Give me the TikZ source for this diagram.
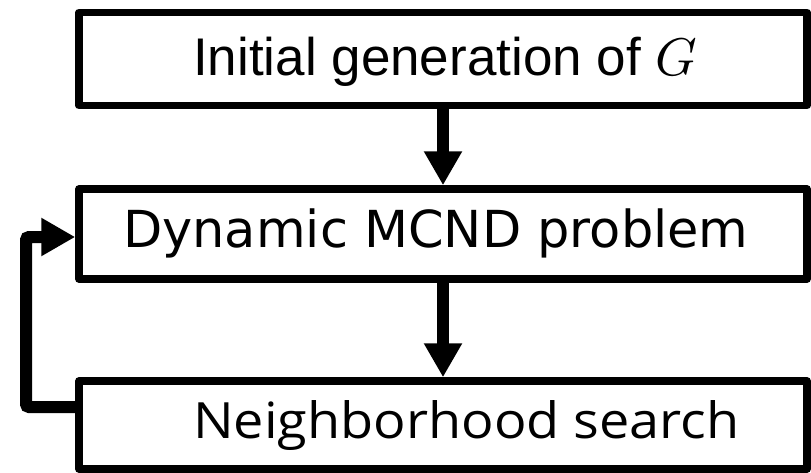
\documentclass[tikz,border=0pt]{standalone}
\usepackage{fontspec}
\usepackage{unicode-math}
\usetikzlibrary{arrows.meta}
\newfontfamily\arialfont{Liberation Sans}
\newfontfamily\verdfont{DejaVu Sans}
\newfontfamily\meifont[FakeStretch=1.08]{Open Sans}

\begin{document}
\begin{tikzpicture}[x=1pt,y=-1pt,
  box/.style={draw=black, line width=7.5pt, line join=round, minimum width=728pt, inner sep=0pt},
  conn/.style={line width=12pt, -{Triangle[length=34pt,width=36pt]}},
  txt/.style={anchor=base west, inner sep=0pt}]
\useasboundingbox (0,0) rectangle (811,472);

% process boxes
\node[box, minimum height=93pt] (init) at (443,59) {};
\node[box, minimum height=90pt] (dyn) at (443,234) {};
\node[box, minimum height=88pt] (nb) at (443,425) {};

% box captions
\node[txt, font=\arialfont\fontsize{53}{60}\selectfont] (t1) at (193,75) {Initial generation of $G$};
\node[txt, font=\verdfont\fontsize{51}{60}\selectfont] (t2) at (123,247) {Dynamic MCND problem};
\node[txt, font=\meifont\fontsize{50}{60}\selectfont] (t3) at (193,438) {Neighborhood search};

% flow connectors
\draw[conn] (init.south) -- (dyn.north);
\draw[conn] (dyn.south) -- (nb.north);

% feedback loop from the search back to the problem
\coordinate (fb1) at (26,407);
\coordinate (fb2) at (26,237);
\draw[conn, rounded corners=3pt] (nb.west |- fb1) -- (fb1) -- (fb2) -- (dyn.west |- fb2);
\end{tikzpicture}
\end{document}
